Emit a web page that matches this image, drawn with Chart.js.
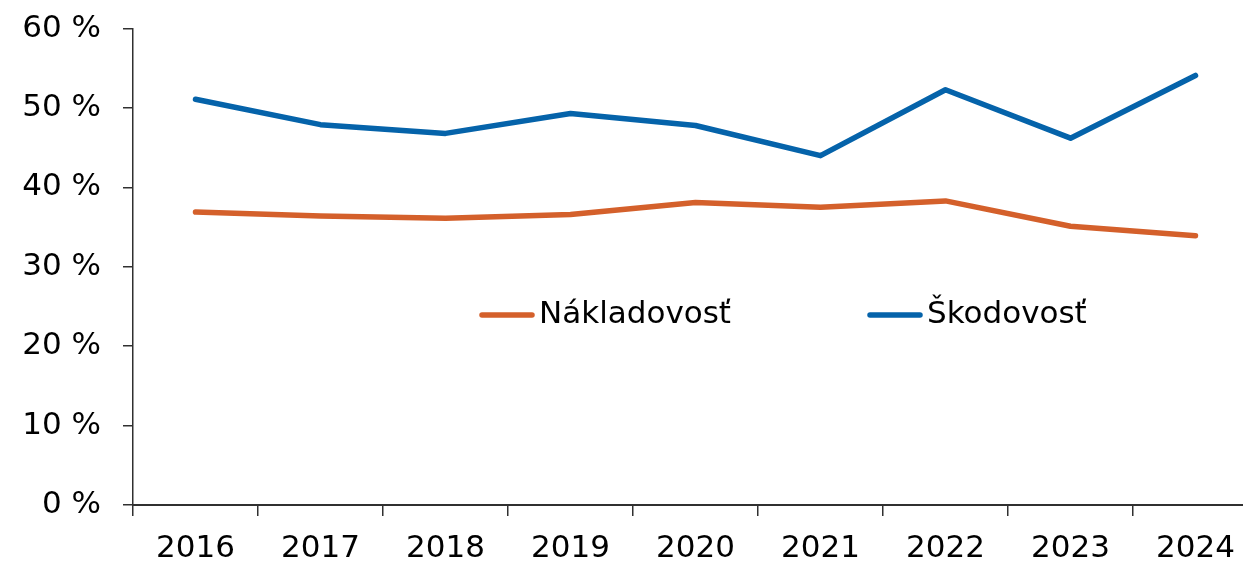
<!DOCTYPE html>
<html>
<head>
<meta charset="utf-8">
<script src="https://cdn.jsdelivr.net/npm/chart.js@4/dist/chart.umd.min.js"></script>
<style>
  html, body { margin: 0; padding: 0; background: #fff; overflow: hidden; }
  #wrap { width: 1270px; height: 575px; margin-top: -12px; }
</style>
</head>
<body>
<div id="wrap"><canvas id="chart"></canvas></div>
<script>
// data
const years = ['2016', '2017', '2018', '2019', '2020', '2021', '2022', '2023', '2024'];
const nakladovost = [36.9, 36.4, 36.1, 36.6, 38.1, 37.5, 38.3, 35.1, 33.9];
const skodovost = [51.1, 47.9, 46.8, 49.3, 47.8, 44.0, 52.3, 46.2, 54.1];
const yTicks = [0, 10, 20, 30, 40, 50, 60];

const colors = {
    orange: '#D4602B',
    blue: '#0563AA',
    axis: '#303030',
    text: '#000000'
};
const font = { family: "'DejaVu Sans', Verdana, sans-serif", size: 31 };

// legend drawn inside the plot, as in the original
const innerLegend = {
    id: 'innerLegend',
    afterDraw(chart) {
        const ctx = chart.ctx;
        const items = [
            { label: 'Nákladovosť', color: colors.orange, x: 482 },
            { label: 'Škodovosť', color: colors.blue, x: 870 }
        ];
        const y = 327;
        ctx.save();
        ctx.font = font.size + 'px ' + font.family;
        ctx.textBaseline = 'middle';
        ctx.lineCap = 'round';
        ctx.lineWidth = 5.5;
        items.forEach(it => {
            ctx.strokeStyle = it.color;
            ctx.beginPath();
            ctx.moveTo(it.x, y);
            ctx.lineTo(it.x + 50, y);
            ctx.stroke();
            ctx.fillStyle = colors.text;
            ctx.fillText(it.label, it.x + 57, y);
        });
        ctx.restore();
    }
};

new Chart(document.getElementById('chart'), {
    type: 'line',
    data: {
        labels: years,
        datasets: [
            {
                label: 'Nákladovosť',
                data: nakladovost,
                borderColor: colors.orange,
                borderWidth: 5.5,
                pointRadius: 0,
                borderCapStyle: 'round',
                borderJoinStyle: 'round',
                tension: 0
            },
            {
                label: 'Škodovosť',
                data: skodovost,
                borderColor: colors.blue,
                borderWidth: 5.5,
                pointRadius: 0,
                borderCapStyle: 'round',
                borderJoinStyle: 'round',
                tension: 0
            }
        ]
    },
    options: {
        responsive: true,
        maintainAspectRatio: false,
        animation: false,
        layout: { padding: { top: 6, right: 12, left: 0, bottom: 0 } },
        plugins: {
            legend: { display: false },
            tooltip: { enabled: false }
        },
        scales: {
            x: {
                offset: true,
                grid: {
                    display: true,
                    drawOnChartArea: false,
                    offset: true,
                    tickLength: 11,
                    color: colors.axis,
                    lineWidth: 1.5
                },
                border: { color: colors.axis, width: 2 },
                ticks: {
                    color: colors.text,
                    font: font,
                    padding: 14,
                    autoSkip: false,
                    maxRotation: 0
                },
                afterFit(scale) { scale.height = 58; }
            },
            y: {
                min: 0,
                max: 60,
                afterBuildTicks(scale) {
                    scale.ticks = yTicks.map(v => ({ value: v }));
                },
                grid: {
                    display: true,
                    drawOnChartArea: false,
                    tickLength: 10,
                    color: colors.axis,
                    lineWidth: 1.5
                },
                border: { color: colors.axis, width: 1.5 },
                ticks: {
                    color: colors.text,
                    font: font,
                    padding: 22,
                    callback: v => v + ' %'
                },
                afterFit(scale) { scale.width = 133; }
            }
        }
    },
    plugins: [innerLegend]
});
</script>
</body>
</html>
